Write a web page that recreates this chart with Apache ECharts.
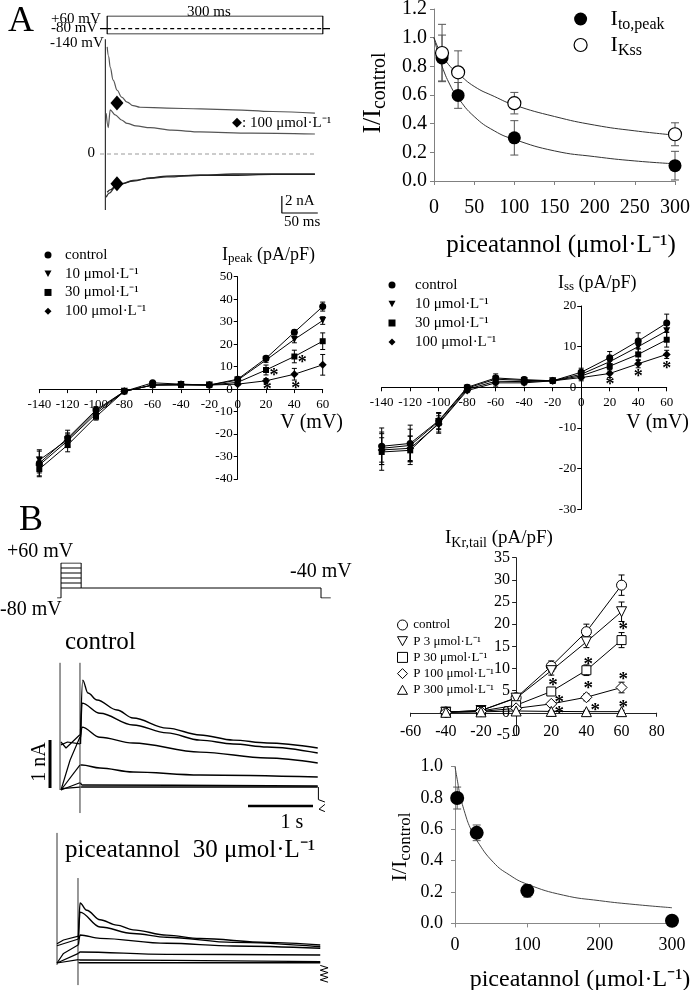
<!DOCTYPE html>
<html>
<head>
<meta charset="utf-8">
<script src="https://cdn.jsdelivr.net/npm/echarts@6.0.0/dist/echarts.min.js"></script>
<style>
html,body{margin:0;padding:0;background:#fff;}
#chart{width:691px;height:990px;}
</style>
</head>
<body>
<div id="chart"></div>
<script>
// ======================= DATA =======================
// ---- Panel A, upper left: voltage protocol (ms, mV) ----
const aProtoTimes = [-10, 0, 300, 310];        // pre, step start, step end, end
const aProtoLevels = {hold: -80, top: 60, bottom: -140};
// ---- Panel A, upper left: current traces (time ms, current nA) ----
const aTraceCtrlPos = [[0,12.6],[2,11.5],[4.2,10.2],[8.3,8.7],[13.9,7.5],[20,6.7],[27.8,6.1],[36,5.7],[45.8,5.5],[83,5.4],[130,5.3],[175,5.2],[230,5.0],[289,4.8]];
const aTraceDrugPos = [[-1.4,4.8],[1.4,3.1],[4.2,5.2],[11.1,4.6],[20,4.0],[27.8,3.6],[40,3.3],[59.7,3.1],[90,2.8],[129,2.6],[200,2.45],[289,2.35]];
const aTraceCtrlNeg = [[-1.4,-5.1],[3,-4.6],[11.1,-3.9],[20,-3.5],[36,-3.1],[60,-2.85],[83,-2.7],[130,-2.5],[175,-2.35],[230,-2.35],[289,-2.35]];
const aTraceDrugNeg = [[0,-4.5],[5,-4.2],[11.1,-3.8],[20,-3.5],[36,-3.2],[60,-2.8],[83,-2.6],[130,-2.5],[175,-2.5],[230,-2.4],[289,-2.4]];
const aTraceArtifact = [[-2.5,13.5],[-2.5,-6.6]];
const aDrugMarks = [[13.6,6.0],[13.6,-3.5]];
const aZeroLine = [[-10,0],[289,0]];
const aScaleBar = [[243,-4.94],[243,-6.94],[293,-6.94]];

// ---- Panel A, upper right: I/Icontrol vs piceatannol ----
const relConc = [10, 30, 100, 300];
const relIto = [0.858, 0.597, 0.301, 0.107];
const relItoErr = [0.16, 0.09, 0.12, 0.10];
const relIkss = [0.893, 0.758, 0.543, 0.326];
const relIkssErr = [0.20, 0.15, 0.075, 0.08];
const relItoFit = [[0,1.0],[5,0.89],[10,0.80],[20,0.67],[30,0.58],[50,0.45],[75,0.35],[100,0.29],[150,0.21],[200,0.17],[250,0.14],[300,0.12]];
const relIkssFit = [[0,1.0],[5,0.93],[10,0.88],[20,0.80],[30,0.75],[50,0.66],[75,0.59],[100,0.53],[150,0.45],[200,0.39],[250,0.35],[300,0.32]];

// ---- Panel A, I-V curves (V in mV) ----
const ivV = [-140,-120,-100,-80,-60,-40,-20,0,20,40,60];
const peakCtrl = [-33,-21.8,-9.3,-1,2.8,2.2,1.8,4.4,13.7,25.3,36.7];
const peak10   = [-31.6,-22.5,-10,-1,1.8,2,1.8,4,12.9,22.1,30.5];
const peak30   = [-35.6,-24.9,-12.3,-1,1.8,1.8,1.8,3,8.5,14.5,21.3];
const peak100  = [-33.8,-23,-11,-1,1.8,2,1.8,2.2,3.7,6.6,10.8];
const peakCtrlErr = [6,3.5,1.5,0.5,0.6,0.5,0.5,0.6,1,1,2];
const peak10Err   = [4,3,1.5,0.5,0.5,0.5,0.5,0.5,1,1.5,1.7];
const peak30Err   = [3,3,1.5,0.5,0.5,0.5,0.5,0.5,2.2,2.8,3.7];
const peak100Err  = [3.5,3,1.5,0.5,0.5,0.5,0.5,0.5,1,2.6,4.6];
const peakStars = [[65.8,18.7],[45.6,12.8],[25.6,6.9],[60.9,2.9],[40.9,1.15],[20.9,0.7]];

const ssCtrl = [-14.5,-13.8,-8.2,0,2.3,1.9,1.6,3.7,7.3,11.4,15.8];
const ss10   = [-15,-14.3,-8.4,-0.2,2,1.7,1.6,3.2,6.3,10.0,13.9];
const ss30   = [-15.9,-15.5,-8.8,-0.5,1.5,1.4,1.6,2.8,5.2,8.1,11.7];
const ss100  = [-15.4,-15,-9,-0.8,1.1,1.1,1.6,2.4,3.4,5.8,8.1];
const ssCtrlErr = [4.5,4.5,2,0.6,1,0.6,0.5,1,1.5,2,2.2];
const ss10Err   = [4,4,2,0.5,0.8,0.5,0.5,1,1.3,1.5,2];
const ss30Err   = [4.5,3.5,2.5,0.5,0.8,0.5,0.5,0.8,1.2,1.5,1.8];
const ss100Err  = [3,3,2,0.5,0.8,0.5,0.5,0.8,1,1,1];
const ssStars = [[20.2,1.2],[40,3.2],[60,5.2]];

const ivLegend = ['control','10 μmol·L⁻¹','30 μmol·L⁻¹','100 μmol·L⁻¹'];

// ---- Panel B, protocol (s, mV) ----
const bProtoTimes = [-0.06, 0, 0.31, 4.0, 4.15];
const bStepLevels = [-40,-20,0,20,40,60];
const bHold = -80;

// ---- Panel B, control traces (s, nA) ----
const bCtrlTails = [
  [[0.30,1.15],[0.334,2.29],[0.415,2.02],[0.554,1.875],[0.862,1.667],[1.108,1.5],[1.63,1.29],[2.14,1.146],[2.65,1.04],[3.17,0.98],[3.95,0.875]],
  [[0.30,0.96],[0.323,1.81],[0.6,1.60],[1.108,1.354],[1.63,1.19],[2.14,1.04],[2.65,0.958],[3.17,0.896],[3.95,0.77]],
  [[0.30,1.10],[0.323,1.31],[0.6,1.10],[1.108,0.98],[2.14,0.79],[3.17,0.667],[3.95,0.5625]],
  [[0.30,0.52],[0.323,0.52],[0.6,0.458],[1.108,0.375],[2.14,0.3125],[3.95,0.27]],
  [[0.30,0.15],[0.323,0.104],[3.95,0.083]],
  [[0.30,0.06],[0.323,0.0625],[3.95,0.0625]]
];
const bCtrlSteps = [
  [[0,1.0],[0.077,0.875],[0.29,1.15]],
  [[0,0.94],[0.1,1.0],[0.29,0.96]],
  [[0,0],[0.14,0.625],[0.29,1.1]],
  [[0,0],[0.29,0.52]],
  [[0,0],[0.29,0.15]],
  [[0,0.03],[0.29,0.06]]
];
const bCtrlEdges = [[[-0.015,2.65],[-0.015,0]], [[0.292,2.65],[0.292,-0.48]]];
const bCtrlArtifact = [[[3.96,0.06],[3.96,-0.2],[4.06,-0.25]], [[4.06,-0.3],[3.97,-0.4],[4.06,-0.45]]];
const bNaBar = [[-0.169,1.04],[-0.169,0.04]];
const bSecBar = [[2.877,-0.333],[3.877,-0.333]];

// ---- Panel B, piceatannol 30 µM traces (s, nA) ----
const bPicTails = [
  [[0.33,0.56],[0.354,1.25],[0.457,1.10],[0.662,0.90],[0.918,0.79],[1.17,0.69],[1.69,0.58],[2.2,0.51],[3.23,0.43],[4.05,0.375]],
  [[0.33,0.50],[0.354,1.06],[0.662,0.75],[1.17,0.616],[1.69,0.535],[2.71,0.43],[4.05,0.34]],
  [[0.33,0.38],[0.354,0.583],[0.662,0.514],[1.69,0.41],[2.71,0.354],[4.05,0.306]],
  [[0.33,0.2],[0.354,0.23],[1.69,0.18],[4.05,0.167]],
  [[0.33,0.07],[0.354,0.0625],[4.05,0.028]],
  [[0.33,0.01],[0.354,0.006],[4.05,0.006]]
];
const bPicSteps = [
  [[0,0.40],[0.1,0.48],[0.33,0.56]],
  [[0,0.36],[0.33,0.50]],
  [[0,0],[0.1,0.2],[0.33,0.38]],
  [[0,0],[0.33,0.2]],
  [[0,0],[0.33,0.07]]
];
const bPicEdges = [[[0,2.71],[0,-0.04]], [[0.323,1.77],[0.323,-0.46]]];
const bPicArtifact = [[4.05,-0.05],[4.17,-0.1],[4.05,-0.15],[4.17,-0.2],[4.05,-0.25],[4.17,-0.3],[4.05,-0.35],[4.17,-0.4]];

// ---- Panel B, IKr,tail I-V ----
const krV = [-40,-20,0,20,40,60];
const krCtrl = [0.15,0.5,3.4,10.5,18.3,28.8];
const kr3    = [0.15,0.5,3.3,9.5,16.0,22.8];
const kr30   = [0.15,0.4,1.7,4.8,9.6,16.4];
const kr100  = [0.1,0.3,1.0,2.0,3.5,5.7];
const kr300  = [0.1,0.2,0.4,0.3,0.25,0.25];
const krCtrlErr = [0.2,0.3,0.5,1.2,1.7,2.3];
const kr3Err    = [0.2,0.3,0.5,1.0,1.3,2.2];
const kr30Err   = [0.2,0.3,0.4,0.8,1.2,1.7];
const kr100Err  = [0.1,0.2,0.3,0.5,0.8,1.2];
const kr300Err  = [0.1,0.1,0.2,0.2,0.3,0.3];
const krStars = [[61,19.4],[41,11.5],[21,6.7],[61,8.1],[41,5.9],[24.5,2.9],[61,1.75],[45,1.0],[24.5,0.4]];
const krLegend = ['control','P 3 μmol·L⁻¹','P 30 μmol·L⁻¹','P 100 μmol·L⁻¹','P 300 μmol·L⁻¹'];

// ---- Panel B, I/Icontrol vs piceatannol ----
const krRelConc = [3, 30, 100, 300];
const krRel = [0.80, 0.578, 0.208, 0.017];
const krRelErr = [0.07, 0.05, 0.04, 0];
const krRelFit = [[0,1.0],[3,0.92],[7,0.82],[14,0.70],[21,0.61],[30,0.53],[53,0.39],[75,0.31],[100,0.25],[150,0.18],[200,0.145],[250,0.12],[300,0.10]];

// ======================= CHART =======================
const FONT = 'Liberation Serif';
const chart = echarts.init(document.getElementById('chart'), null, {width:691, height:990});

const grids = [
  {left:100,   top:9.5,   width:230,   height:212.5}, // 0 A traces
  {left:100,   top:16,    width:230,   height:18},    // 1 A protocol
  {left:434,   top:9,     width:241,   height:172},   // 2 A relative
  {left:39.3,  top:276.7, width:283.4, height:202.3}, // 3 Ipeak data
  {left:381.7, top:306,   width:285,   height:203.3}, // 4 Iss data
  {left:48,    top:563,   width:292.5, height:35},    // 5 B protocol
  {left:48,    top:660.4, width:292.5, height:158.4}, // 6 B control traces
  {left:44,    top:831,   width:292.5, height:156},   // 7 B piceatannol traces
  {left:410.7, top:557.7, width:246,   height:177.2}, // 8 IKr tail data
  {left:455,   top:766.7, width:217,   height:156.7}, // 9 B relative
  {left:39.3,  top:276.7, width:283.4, height:112.4}, // 10 Ipeak x-axis (crosses at 0)
  {left:237.7, top:276.7, width:85,    height:202.3}, // 11 Ipeak y-axis (crosses at 0)
  {left:381.7, top:306,   width:285,   height:81.3},  // 12 Iss x-axis
  {left:581.2, top:306,   width:85.5,  height:203.3}, // 13 Iss y-axis
  {left:410.7, top:557.7, width:246,   height:155.05},// 14 IKr x-axis
  {left:516.1, top:557.7, width:140.6, height:177.2}  // 15 IKr y-axis
].map(g => Object.assign({outerBoundsMode:'none', containLabel:false}, g));

function hidden(gi, min, max) { return {gridIndex:gi, type:'value', min, max, show:false}; }
function vis(gi, min, max, interval, color, fs, margin, fmt) {
  return {gridIndex:gi, type:'value', min, max, interval,
    axisLine:{show:true, onZero:false, lineStyle:{color, width:1}},
    axisTick:{show:true, length:4, lineStyle:{color, width:1}},
    axisLabel:{show:true, fontFamily:FONT, fontSize:fs, color:'#000', margin, formatter:fmt},
    splitLine:{show:false}};
}
const f1 = v => v.toFixed(1);
const xAxes = [
  hidden(0,-10,310), hidden(1,-10,310),
  vis(2,0,300,50,'#808080',20,17),
  hidden(3,-140,60), hidden(4,-140,60),
  hidden(5,-0.2,4.3), hidden(6,-0.2,4.3), hidden(7,-0.2,4.3),
  hidden(8,-60,80),
  vis(9,0,300,100,'#888',18,13),
  vis(10,-140,60,20,'#000',13,9), hidden(11,0,60),
  vis(12,-140,60,20,'#000',13,9), hidden(13,0,60),
  vis(14,-60,80,20,'#222',16,11), hidden(15,0,80)
];
const yAxes = [
  hidden(0,-8,17), hidden(1,-140,60),
  vis(2,0,1.2,0.2,'#808080',20,7,f1),
  hidden(3,-40,50), hidden(4,-30,20),
  hidden(5,-80,60), hidden(6,-0.6,2.7), hidden(7,-0.5,2.75),
  hidden(8,-5,35),
  vis(9,0,1.0,0.2,'#888',18,12,f1),
  hidden(10,0,50), vis(11,-40,50,10,'#000',13,5),
  hidden(12,0,20), vis(13,-30,20,10,'#000',13,5),
  hidden(14,0,35), vis(15,-5,35,5,'#222',16,6)
];

const series = [];
function line(gi, data, color, width, extra) {
  series.push(Object.assign({type:'line', xAxisIndex:gi, yAxisIndex:gi, data, symbol:'none', silent:true,
    lineStyle:{color:color||'#000', width:width||1}, z:3}, extra||{}));
}
function errBars(gi, xs, ys, es, cap, color) {
  series.push({type:'custom', xAxisIndex:gi, yAxisIndex:gi, silent:true, z:2,
    encode:{x:0, y:[1,2]},
    data: xs.map((x,i)=>[x, ys[i]-es[i], ys[i]+es[i]]),
    renderItem:(p, api)=>{
      const x = api.value(0);
      const a = api.coord([x, api.value(1)]), b = api.coord([x, api.value(2)]);
      const st = {stroke:color||'#000', lineWidth:1};
      return {type:'group', children:[
        {type:'line', shape:{x1:a[0],y1:a[1],x2:b[0],y2:b[1]}, style:st},
        {type:'line', shape:{x1:a[0]-cap,y1:a[1],x2:a[0]+cap,y2:a[1]}, style:st},
        {type:'line', shape:{x1:b[0]-cap,y1:b[1],x2:b[0]+cap,y2:b[1]}, style:st}
      ]};
    }});
}
function ivLine(gi, name, xs, ys, sym, size, rot, open) {
  series.push({type:'line', name, xAxisIndex:gi, yAxisIndex:gi, data: xs.map((x,i)=>[x, ys[i]]),
    symbol:sym, symbolSize:size, symbolRotate:rot||0, silent:true,
    lineStyle:{color:'#000', width:1},
    itemStyle: open ? {color:'#fff', borderColor:'#000', borderWidth:1, opacity:1} : {color:'#000', borderWidth:0, opacity:1},
    z:4});
}
function stars(gi, pts, size) {
  series.push({type:'scatter', xAxisIndex:gi, yAxisIndex:gi, data:pts, symbolSize:0.1, silent:true,
    itemStyle:{color:'#000', opacity:1},
    label:{show:true, position:'inside', formatter:'*', fontFamily:FONT, fontWeight:'bold', fontSize:size, color:'#000', opacity:1, textBorderWidth:0, offset:[0, size*0.15]},
    z:6});
}
function dots(gi, name, xs, ys, size, open) {
  series.push({type:'scatter', name, xAxisIndex:gi, yAxisIndex:gi, data: xs.map((x,i)=>[x, ys[i]]),
    symbol:'circle', symbolSize:size, silent:true,
    itemStyle: open ? {color:'#fff', borderColor:'#000', borderWidth:1.2, opacity:1} : {color:'#000', borderWidth:0, opacity:1},
    z:5});
}

// ---- A protocol ----
const tA = aProtoTimes, LA = aProtoLevels;
line(1, [[tA[0],LA.hold],[tA[1],LA.hold]], '#000', 1.2);
line(1, [[tA[1],LA.hold],[tA[1],LA.top],[tA[2],LA.top],[tA[2],LA.bottom],[tA[1],LA.bottom],[tA[1],LA.hold]], '#000', 1.2);
line(1, [[tA[1],LA.hold],[tA[2],LA.hold]], '#000', 1.2, {lineStyle:{color:'#000', width:1.2, type:[4,3]}});
line(1, [[tA[2],LA.hold],[tA[3],LA.hold]], '#000', 1.2);
// ---- A traces ----
line(0, aZeroLine, '#999', 1, {lineStyle:{color:'#999', width:1, type:[4,3]}});
line(0, aTraceArtifact, '#333', 1.2);
line(0, aTraceCtrlPos, '#555', 1.2, {smooth:0.4, smoothMonotone:'x'});
line(0, aTraceDrugPos, '#555', 1.2, {smooth:0.3, smoothMonotone:'x'});
line(0, aTraceCtrlNeg, '#333', 1.3, {smooth:0.4, smoothMonotone:'x'});
line(0, aTraceDrugNeg, '#222', 1.3, {smooth:0.4, smoothMonotone:'x'});
line(0, aScaleBar, '#000', 1.2);
series.push({type:'scatter', xAxisIndex:0, yAxisIndex:0, data:aDrugMarks, symbol:'diamond', symbolSize:[13,15], silent:true, itemStyle:{color:'#000', opacity:1}, z:6});

// ---- A relative ----
errBars(2, relConc, relIto, relItoErr, 4, '#555');
errBars(2, relConc, relIkss, relIkssErr, 4, '#555');
line(2, relItoFit, '#333', 1, {smooth:0.5});
line(2, relIkssFit, '#333', 1, {smooth:0.5});
dots(2, 'rel_ito', relConc, relIto, 13, false);
dots(2, 'rel_ikss', relConc, relIkss, 13, true);

// ---- A Ipeak ----
errBars(3, ivV, peakCtrl, peakCtrlErr, 2.5);
errBars(3, ivV, peak10, peak10Err, 2.5);
errBars(3, ivV, peak30, peak30Err, 2.5);
errBars(3, ivV, peak100, peak100Err, 2.5);
ivLine(3, 'pk_0', ivV, peakCtrl, 'circle', 7);
ivLine(3, 'pk_1', ivV, peak10, 'triangle', 7, 180);
ivLine(3, 'pk_2', ivV, peak30, 'rect', 6);
ivLine(3, 'pk_3', ivV, peak100, 'diamond', 8);
stars(3, peakStars, 18);

// ---- A Iss ----
errBars(4, ivV, ssCtrl, ssCtrlErr, 2.5);
errBars(4, ivV, ss10, ss10Err, 2.5);
errBars(4, ivV, ss30, ss30Err, 2.5);
errBars(4, ivV, ss100, ss100Err, 2.5);
ivLine(4, 'ss_0', ivV, ssCtrl, 'circle', 7);
ivLine(4, 'ss_1', ivV, ss10, 'triangle', 7, 180);
ivLine(4, 'ss_2', ivV, ss30, 'rect', 6);
ivLine(4, 'ss_3', ivV, ss100, 'diamond', 8);
stars(4, ssStars, 18);

// ---- B protocol ----
const tB = bProtoTimes;
const topL = bStepLevels[bStepLevels.length-1], lowL = bStepLevels[0];
line(5, [[tB[0],bHold],[tB[1],bHold],[tB[1],topL]], '#000', 1);
line(5, [[tB[2],topL],[tB[2],lowL],[tB[3],lowL],[tB[3],bHold],[tB[4],bHold]], '#000', 1);
bStepLevels.forEach(L => line(5, [[tB[1],L],[tB[2],L]], '#000', 1));

// ---- B control traces ----
bCtrlEdges.forEach(d => line(6, d, '#333', 1));
bCtrlSteps.forEach(d => line(6, d, '#000', 1.2));
bCtrlTails.forEach(d => line(6, d, '#000', 1.4, {smooth:0.35, smoothMonotone:'x'}));
bCtrlArtifact.forEach(d => line(6, d, '#000', 1));
line(6, bNaBar, '#000', 3);
line(6, bSecBar, '#000', 2.5);

// ---- B piceatannol traces ----
bPicEdges.forEach(d => line(7, d, '#333', 1));
bPicSteps.forEach(d => line(7, d, '#000', 1.2));
bPicTails.forEach(d => line(7, d, '#000', 1.4, {smooth:0.35, smoothMonotone:'x'}));
line(7, bPicArtifact, '#000', 1);

// ---- B IKr IV ----
errBars(8, krV, krCtrl, krCtrlErr, 3);
errBars(8, krV, kr3, kr3Err, 3);
errBars(8, krV, kr30, kr30Err, 3);
errBars(8, krV, kr100, kr100Err, 3);
errBars(8, krV, kr300, kr300Err, 3);
ivLine(8, 'kr_0', krV, krCtrl, 'circle', 10, 0, true);
ivLine(8, 'kr_1', krV, kr3, 'triangle', 10, 180, true);
ivLine(8, 'kr_2', krV, kr30, 'rect', 9, 0, true);
ivLine(8, 'kr_3', krV, kr100, 'diamond', 11, 0, true);
ivLine(8, 'kr_4', krV, kr300, 'triangle', 10, 0, true);
stars(8, krStars, 19);

// ---- B relative ----
errBars(9, krRelConc, krRel, krRelErr, 4, '#555');
line(9, krRelFit, '#444', 1, {smooth:0.5});
dots(9, 'krrel', krRelConc, krRel, 14, false);

// ---- legends ----
const triDown = 'path://M0,0L10,0L5,9Z';
const triUp = 'path://M5,0L10,9L0,9Z';
const fullLabels = {};
['pk','ss'].forEach(p => ivLegend.forEach((t,i) => fullLabels[p+'_'+i] = t));
krLegend.forEach((t,i) => fullLabels['kr_'+i] = t);
fullLabels.rel_ito = '{b|I}{s|to,peak}';
fullLabels.rel_ikss = '{b|I}{s|Kss}';
const lgText = (fs, lh, pad) => ({fontFamily:FONT, fontSize:fs, color:'#000', lineHeight:lh, padding:[0,0,0,pad]});
const openStyle = {color:'#fff', borderColor:'#000', borderWidth:1, opacity:1};
const filled = {color:'#000', borderWidth:0, opacity:1};
const ivIcons = ['circle', triDown, 'rect', 'diamond'];
const krIcons = ['circle', triDown, 'rect', 'diamond', triUp];
function ivLegendCfg(prefix, left, top, pad, lh) {
  return {orient:'vertical', left, top, padding:0, itemGap:0, itemWidth:7, itemHeight:7, selectedMode:false,
    textStyle:lgText(15, lh, pad), formatter:n => fullLabels[n],
    data: ivLegend.map((t,i) => ({name:prefix+'_'+i, icon:ivIcons[i], itemStyle:filled}))};
}
const legends = [
  {orient:'vertical', left:573.5, top:8, padding:0, itemGap:1, itemWidth:13, itemHeight:13, selectedMode:false,
   formatter:n => fullLabels[n],
   textStyle:{fontFamily:FONT, color:'#000', padding:[0,0,0,18.5], rich:{
     b:{fontFamily:FONT, fontSize:22, lineHeight:22, verticalAlign:'top', color:'#000'},
     s:{fontFamily:FONT, fontSize:16, lineHeight:16, verticalAlign:'top', padding:[9,0,0,0], color:'#000'}}},
   data:[{name:'rel_ito', icon:'circle', itemStyle:filled}, {name:'rel_ikss', icon:'circle', itemStyle:{color:'#fff', borderColor:'#000', borderWidth:1.2, opacity:1}}]},
  ivLegendCfg('pk', 44.5, 245.7, 8.5, 18.7),
  ivLegendCfg('ss', 388.5, 275.5, 14.5, 19),
  {orient:'vertical', left:397, top:616.9, padding:0, itemGap:0, itemWidth:10, itemHeight:10, selectedMode:false,
   textStyle:lgText(13, 16.2, 0.7), formatter:n => fullLabels[n],
   data: krLegend.map((t,i) => ({name:'kr_'+i, icon:krIcons[i], itemStyle:openStyle}))}
];

// ---- text ----
function T(x, y, text, size, align, extra) {
  return Object.assign({type:'text', x, y, z:100, silent:true,
    style:{text, fontFamily:FONT, fontSize:size, fill:'#000', align:align||'left', textAlign:align||'left',
      verticalAlign:'middle', textVerticalAlign:'middle'}}, extra||{});
}
function R(x, y, text, rich, align, extra) {
  const e = T(x, y, text, 16, align, extra);
  e.style.rich = rich;
  return e;
}
const subRich = (b, s, pad) => ({
  b:{fontFamily:FONT, fontSize:b, lineHeight:b, verticalAlign:'top', fill:'#000', color:'#000'},
  s:{fontFamily:FONT, fontSize:s, lineHeight:s, verticalAlign:'top', padding:[pad,0,0,0], fill:'#000', color:'#000'}
});
const graphics = [
  T(8, 22, 'A', 36),
  T(51, 19, '+60 mV', 15),
  T(51, 28, '-80 mV', 15),
  T(50, 43, '-140 mV', 15),
  T(209, 12, '300 ms', 15, 'center'),
  R(232, 123, '{d|◆}{t|: 100 μmol·L⁻¹}', {d:{fontFamily:'DejaVu Sans', fontSize:13, fill:'#000', color:'#000'}, t:{fontFamily:FONT, fontSize:15, fill:'#000', color:'#000'}}),
  T(95, 153, '0', 15, 'right'),
  T(285, 201, '2 nA', 15),
  T(284, 222, '50 ms', 15),
  R(373, 93, '{b|I/I}{s|control}', subRich(26, 20, 10), 'center', {rotation:Math.PI/2}),
  T(561, 245, 'piceatannol (μmol·L⁻¹)', 25, 'center'),
  R(222, 255, '{b|I}{s|peak}{b| (pA/pF)}', subRich(18, 13, 6)),
  T(343, 423, 'V (mV)', 20, 'right'),
  R(558, 283, '{b|I}{s|ss}{b| (pA/pF)}', subRich(18, 13, 6)),
  T(689, 423, 'V (mV)', 20, 'right'),
  T(19, 521, 'B', 36),
  T(7, 552, '+60 mV', 20),
  T(0, 610, '-80 mV', 20),
  T(290, 572, '-40 mV', 20),
  T(65, 642, 'control', 25),
  T(40, 762, '1 nA', 20, 'center', {rotation:Math.PI/2}),
  T(292, 823, '1 s', 20, 'center'),
  T(65, 850, 'piceatannol  30 μmol·L⁻¹', 25),
  R(445, 538, '{b|I}{s|Kr,tail}{b| (pA/pF)}', subRich(19, 14, 8)),
  R(400, 847, '{b|I/I}{s|control}', subRich(22, 17, 8), 'center', {rotation:Math.PI/2}),
  T(580, 980, 'piceatannol (μmol·L⁻¹)', 24, 'center')
];

chart.setOption({
  animation:false,
  backgroundColor:'#fff',
  textStyle:{fontFamily:FONT},
  grid:grids, xAxis:xAxes, yAxis:yAxes,
  legend:legends,
  series,
  graphic:{elements:graphics}
});
</script>
</body>
</html>
